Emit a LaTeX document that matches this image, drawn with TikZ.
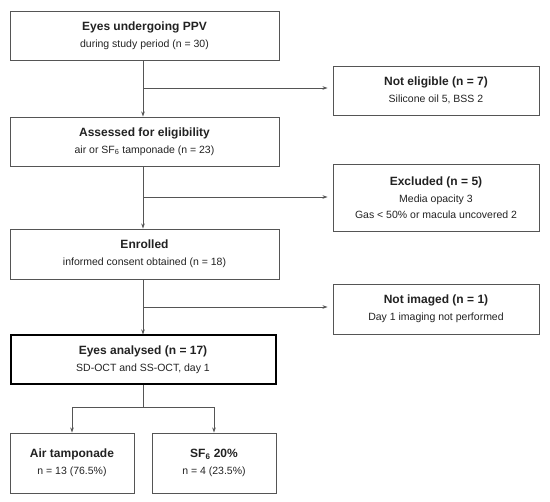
\documentclass[tikz,border=0pt]{standalone}
\usepackage{fontspec}
\setmainfont{Liberation Sans}
\usetikzlibrary{arrows.meta}
\definecolor{linegray}{HTML}{555555}
\definecolor{txt}{HTML}{222222}
\newcommand{\ttl}[1]{{\fontsize{12}{14}\selectfont\bfseries #1}}
\newcommand{\sbt}[1]{{\fontsize{10.5}{12}\selectfont #1}}
\begin{document}
\begin{tikzpicture}[x=1pt,y=-1pt,
  box/.style={draw=linegray, line width=0.9pt, align=center, inner sep=0pt, text=txt, minimum height=49pt},
  mainbox/.style={box, minimum width=269pt},
  sidebox/.style={box, minimum width=206pt},
  thickbox/.style={box, draw=black, line width=2pt, minimum width=265pt},
  botbox/.style={box, minimum width=124pt, minimum height=60pt},
  conn/.style={draw=linegray, line width=0.8pt},
  arr/.style={conn, -{Stealth[length=5pt,width=3.5pt]}},
  sarr/.style={arr, shorten >=5pt}
]
\useasboundingbox (0,0) rectangle (550,502);

\node[mainbox] (b1) at (144.5,35.5) {\ttl{Eyes undergoing PPV}\\[5pt]\sbt{during study period (n = 30)}};
\node[mainbox] (b2) at (144.5,141.5) {\ttl{Assessed for eligibility}\\[5pt]\sbt{air or SF\textsubscript{6} tamponade (n = 23)}};
\node[mainbox, minimum height=50pt] (b3) at (144.5,254) {\ttl{Enrolled}\\[5pt]\sbt{informed consent obtained (n = 18)}};
\node[thickbox, minimum height=49pt] (b4) at (143,360) {\ttl{Eyes analysed (n = 17)}\\[5pt]\sbt{SD-OCT and SS-OCT, day 1}};

\node[sidebox] (s1) at (436,90.5) {\ttl{Not eligible (n = 7)}\\[5pt]\sbt{Silicone oil 5, BSS 2}};
\node[sidebox, minimum height=67pt] (s2) at (436,197.5) {\ttl{Excluded (n = 5)}\\[5pt]\sbt{Media opacity 3}\\[4pt]\sbt{Gas < 50\% or macula uncovered 2}};
\node[sidebox, minimum height=50pt] (s3) at (436,309) {\ttl{Not imaged (n = 1)}\\[5pt]\sbt{Day 1 imaging not performed}};

\node[botbox] (c1) at (72,463) {\ttl{Air tamponade}\\[5pt]\sbt{n = 13 (76.5\%)}};
\node[botbox] (c2) at (214,463) {\ttl{SF\textsubscript{6} 20\%}\\[5pt]\sbt{n = 4 (23.5\%)}};

\draw[arr] (b1.south -| 143,0) -- (b2.north -| 143,0);
\draw[arr] (b2.south -| 143,0) -- (b3.north -| 143,0);
\draw[arr] (b3.south -| 143,0) -- (b4.north -| 143,0);

\coordinate (j1) at (143,88);
\coordinate (j2) at (143,197);
\coordinate (j3) at (143,307);
\draw[sarr] (j1) -- (j1 -| s1.west);
\draw[sarr] (j2) -- (j2 -| s2.west);
\draw[sarr] (j3) -- (j3 -| s3.west);

\coordinate (jb) at (143,407);
\draw[conn] (b4.south) -- (jb);
\draw[arr] (jb) -| (c1.north);
\draw[arr] (jb) -| (c2.north);
\end{tikzpicture}
\end{document}
